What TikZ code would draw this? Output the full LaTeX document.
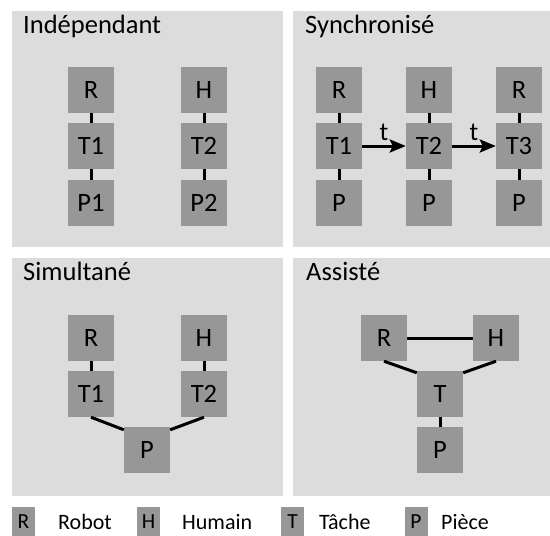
\documentclass[tikz,border=0pt]{standalone}
\usepackage{fontspec}
\setmainfont{Carlito}
\usetikzlibrary{arrows.meta,calc}
\definecolor{panelbg}{HTML}{DCDCDC}
\definecolor{boxgray}{HTML}{979797}
\begin{document}
\begin{tikzpicture}[x=1pt,y=-1pt,
  panel/.style={fill=panelbg,draw=none},
  box/.style={fill=boxgray,draw=none,minimum width=46pt,minimum height=46pt,inner sep=0pt,font=\fontsize{26.5}{30}\selectfont},
  lbox/.style={fill=boxgray,draw=none,minimum width=23pt,minimum height=30pt,inner sep=0pt,font=\fontsize{21.5}{25}\selectfont},
  ltext/.style={anchor=west,inner sep=0pt,font=\fontsize{22}{26}\selectfont},
  title/.style={anchor=base west,inner sep=0pt,font=\fontsize{26.5}{31}\selectfont},
  tlabel/.style={above=4pt,inner sep=0pt,font=\fontsize{26}{30}\selectfont},
  link/.style={line width=3pt},
  seq/.style={line width=3pt,-{Stealth[length=16pt,width=13pt,inset=3pt]}}
]
\useasboundingbox (0,0) rectangle (550,536);
\fill[white] (0,0) rectangle (550,536);
% panels
\fill[panel] (12,11) rectangle (283,247);
\fill[panel] (293,11) rectangle (550,247);
\fill[panel] (12,258) rectangle (283,496);
\fill[panel] (293,258) rectangle (550,496);
% titles
\node[title] (t1) at (23,33) {Indépendant};
\node[title] (t2) at (305,33) {Synchronisé};
\node[title] (t3) at (23,280) {Simultané};
\node[title] (t4) at (306,280) {Assisté};
% Independant
\node[box] (aR) at (91,90) {R};
\node[box] (aT1) at (91,146) {T1};
\node[box] (aP1) at (91,203) {P1};
\node[box] (aH) at (204,90) {H};
\node[box] (aT2) at (204,146) {T2};
\node[box] (aP2) at (204,203) {P2};
\draw[link] (aR) -- (aT1);
\draw[link] (aT1) -- (aP1);
\draw[link] (aH) -- (aT2);
\draw[link] (aT2) -- (aP2);
% Synchronise
\node[box] (bR1) at (339,90) {R};
\node[box] (bT1) at (339,146) {T1};
\node[box] (bP1) at (339,203) {P};
\node[box] (bH) at (429,90) {H};
\node[box] (bT2) at (429,146) {T2};
\node[box] (bP2) at (429,203) {P};
\node[box] (bR3) at (519,90) {R};
\node[box] (bT3) at (519,146) {T3};
\node[box] (bP3) at (519,203) {P};
\draw[link] (bR1) -- (bT1);
\draw[link] (bT1) -- (bP1);
\draw[link] (bH) -- (bT2);
\draw[link] (bT2) -- (bP2);
\draw[link] (bR3) -- (bT3);
\draw[link] (bT3) -- (bP3);
\draw[seq] (bT1) -- node[tlabel] {t} (bT2);
\draw[seq] (bT2) -- node[tlabel] {t} (bT3);
% Simultane
\node[box] (cR) at (91,338) {R};
\node[box] (cT1) at (91,394) {T1};
\node[box] (cH) at (204,338) {H};
\node[box] (cT2) at (204,394) {T2};
\node[box] (cP) at (147,450) {P};
\draw[link] (cR) -- (cT1);
\draw[link] (cH) -- (cT2);
\draw[link] (cT1.south) -- ([yshift=-3pt]cP.north west);
\draw[link] (cT2.south) -- ([yshift=-3pt]cP.north east);
% Assiste
\node[box] (dR) at (384,338) {R};
\node[box] (dH) at (496,338) {H};
\node[box] (dT) at (440,394) {T};
\node[box] (dP) at (440,450) {P};
\draw[link] (dR) -- (dH);
\draw[link] (dR.south) -- ([yshift=-2pt]dT.north west);
\draw[link] (dH.south) -- ([yshift=-2pt]dT.north east);
\draw[link] (dT) -- (dP);
% legend
\node[lbox] (lR) at (23.5,522) {R};
\node[ltext] (lRt) at (58,522) {Robot};
\node[lbox] (lH) at (148.5,522) {H};
\node[ltext] (lHt) at (182,522) {Humain};
\node[lbox] (lT) at (292.5,522) {T};
\node[ltext] (lTt) at (319,522) {Tâche};
\node[lbox] (lP) at (416,522) {P};
\node[ltext] (lPt) at (441,522) {Pièce};
\end{tikzpicture}
\end{document}
